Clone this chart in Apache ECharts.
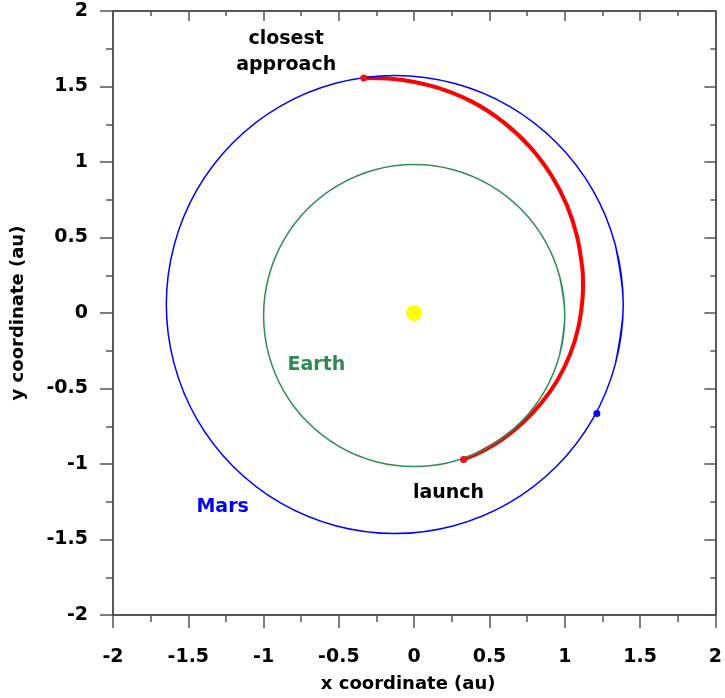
<!DOCTYPE html>
<html><head><meta charset="utf-8">
<script src="https://cdn.jsdelivr.net/npm/echarts@6/dist/echarts.min.js"></script>
<style>html,body{margin:0;padding:0;background:#fff}#c{width:725px;height:698px}</style>
</head><body><div id="c"></div>
<script>
// ---- data (au) ----
const axisMin = -2, axisMax = 2, axisStep = 0.5;
// orbits listed as closed loops (first two points repeated at the end)
const earthOrbit = [
  [0.966,-0.276],[1.000,-0.017],[0.966,0.242],[0.866,0.483],[0.707,0.690],[0.500,0.849],[0.259,0.949],
  [0.000,0.983],[-0.259,0.949],[-0.500,0.849],[-0.707,0.690],[-0.866,0.483],[-0.966,0.242],
  [-1.000,-0.017],[-0.966,-0.276],[-0.866,-0.517],[-0.707,-0.724],[-0.500,-0.883],[-0.259,-0.983],
  [0.000,-1.017],[0.259,-0.983],[0.500,-0.883],[0.707,-0.724],[0.866,-0.517],[0.966,-0.276],
  [1.000,-0.017],[0.966,0.242]
];
const marsOrbit = [
  [1.336,-0.337],[1.388,0.056],[1.336,0.449],[1.185,0.815],[0.944,1.129],[0.630,1.370],[0.264,1.521],
  [-0.129,1.573],[-0.522,1.521],[-0.888,1.370],[-1.202,1.129],[-1.443,0.815],[-1.594,0.449],
  [-1.646,0.056],[-1.594,-0.337],[-1.443,-0.703],[-1.202,-1.017],[-0.888,-1.258],[-0.522,-1.409],
  [-0.129,-1.461],[0.264,-1.409],[0.630,-1.258],[0.944,-1.017],[1.185,-0.703],[1.336,-0.337],
  [1.388,0.056],[1.336,0.449]
];
const transferPath = [
  [0.328,-0.970],[0.432,-0.926],[0.585,-0.836],[0.724,-0.724],[0.847,-0.593],[0.952,-0.444],
  [1.034,-0.277],[1.090,-0.095],[1.118,0.098],[1.121,0.198],[1.116,0.299],[1.082,0.505],[1.015,0.711],
  [0.911,0.911],[0.770,1.099],[0.590,1.266],[0.376,1.403],[0.131,1.499],[-0.136,1.550],[-0.335,1.557]
];
const craftPoints = [[0.328,-0.970],[-0.335,1.557]];
const marsAtLaunch = [[1.213,-0.665]];
const sunPoint = [[0,0]];
const labelTexts = ['closest\napproach','Earth','Mars','launch'];
const labelX = [-0.85,-0.649,-1.272,0.228];
const labelY = [1.725,-0.345,-1.287,-1.194];

// ---- styles ----
const FONT = 'DejaVu Sans';
const labelColors = ['#000000','#2E8B57','#0000FF','#000000'];
const axisLineStyle = {color:'#222', width:1.5};
const tickStyle = {color:'#555', width:1.5};

function baseAxis(extra){
  return Object.assign({
    type:'value', min:axisMin, max:axisMax, interval:axisStep,
    splitLine:{show:false},
    axisLine:{show:true, onZero:false, lineStyle:axisLineStyle}
  }, extra);
}

const chart = echarts.init(document.getElementById('c'), null, {renderer:'canvas'});
chart.setOption({
  animation:false,
  backgroundColor:'#fff',
  grid:{left:113, top:11, width:603, height:604, containLabel:false},
  xAxis:[
    baseAxis({position:'bottom',
      axisTick:{show:true, inside:false, length:13, lineStyle:tickStyle},
      minorTick:{show:true, splitNumber:2, length:7, lineStyle:tickStyle},
      axisLabel:{show:true, margin:33, color:'#000', fontFamily:FONT, fontWeight:'bold', fontSize:19},
      name:'x coordinate (au)', nameLocation:'middle', nameGap:60,
      nameTextStyle:{color:'#000', fontFamily:FONT, fontWeight:'bold', fontSize:18, padding:[0,12,0,0]}
    }),
    baseAxis({position:'top',
      axisTick:{show:true, inside:true, length:10, lineStyle:tickStyle},
      minorTick:{show:true, splitNumber:2, length:5, lineStyle:tickStyle},
      axisLabel:{show:false}
    })
  ],
  yAxis:[
    baseAxis({position:'left',
      axisTick:{show:true, inside:false, length:13, lineStyle:tickStyle},
      minorTick:{show:true, splitNumber:2, length:7, lineStyle:tickStyle},
      axisLabel:{show:true, margin:25, color:'#000', fontFamily:FONT, fontWeight:'bold', fontSize:19},
      name:'y coordinate (au)', nameLocation:'middle', nameGap:86,
      nameTextStyle:{color:'#000', fontFamily:FONT, fontWeight:'bold', fontSize:18}
    }),
    baseAxis({position:'right',
      axisTick:{show:true, inside:true, length:11, lineStyle:tickStyle},
      minorTick:{show:true, splitNumber:2, length:5, lineStyle:tickStyle},
      axisLabel:{show:false}
    })
  ],
  series:[
    {type:'line', name:'transfer', data:transferPath, smooth:0.34, symbol:'none', z:2,
      lineStyle:{color:'#FF0000', width:4}},
    {type:'line', name:'Earth', data:earthOrbit, smooth:0.34, symbol:'none', z:3,
      lineStyle:{color:'#2E8B57', width:1.5}},
    {type:'line', name:'Mars', data:marsOrbit, smooth:0.34, symbol:'none', z:3,
      lineStyle:{color:'#0000FF', width:1.5}},
    {type:'scatter', name:'Sun', data:sunPoint, symbol:'circle', symbolSize:16, z:4,
      itemStyle:{color:'#FFFF00', opacity:1}},
    {type:'scatter', name:'craft', data:craftPoints, symbol:'circle', symbolSize:7, z:5,
      itemStyle:{color:'#EE1111', opacity:1}},
    {type:'scatter', name:'MarsPos', data:marsAtLaunch, symbol:'circle', symbolSize:7, z:5,
      itemStyle:{color:'#0000FF', opacity:1}},
    {type:'scatter', name:'labels', symbolSize:0, z:6, silent:true,
      itemStyle:{opacity:1},
      data:labelTexts.map((t,i)=>({value:[labelX[i],labelY[i]], name:t,
        label:{color:labelColors[i]}})),
      label:{show:true, position:'inside', formatter:p=>p.name, opacity:1,
        fontFamily:FONT, fontWeight:'bold', fontSize:19, lineHeight:26, align:'center', verticalAlign:'middle'}}
  ]
});
</script></body></html>
